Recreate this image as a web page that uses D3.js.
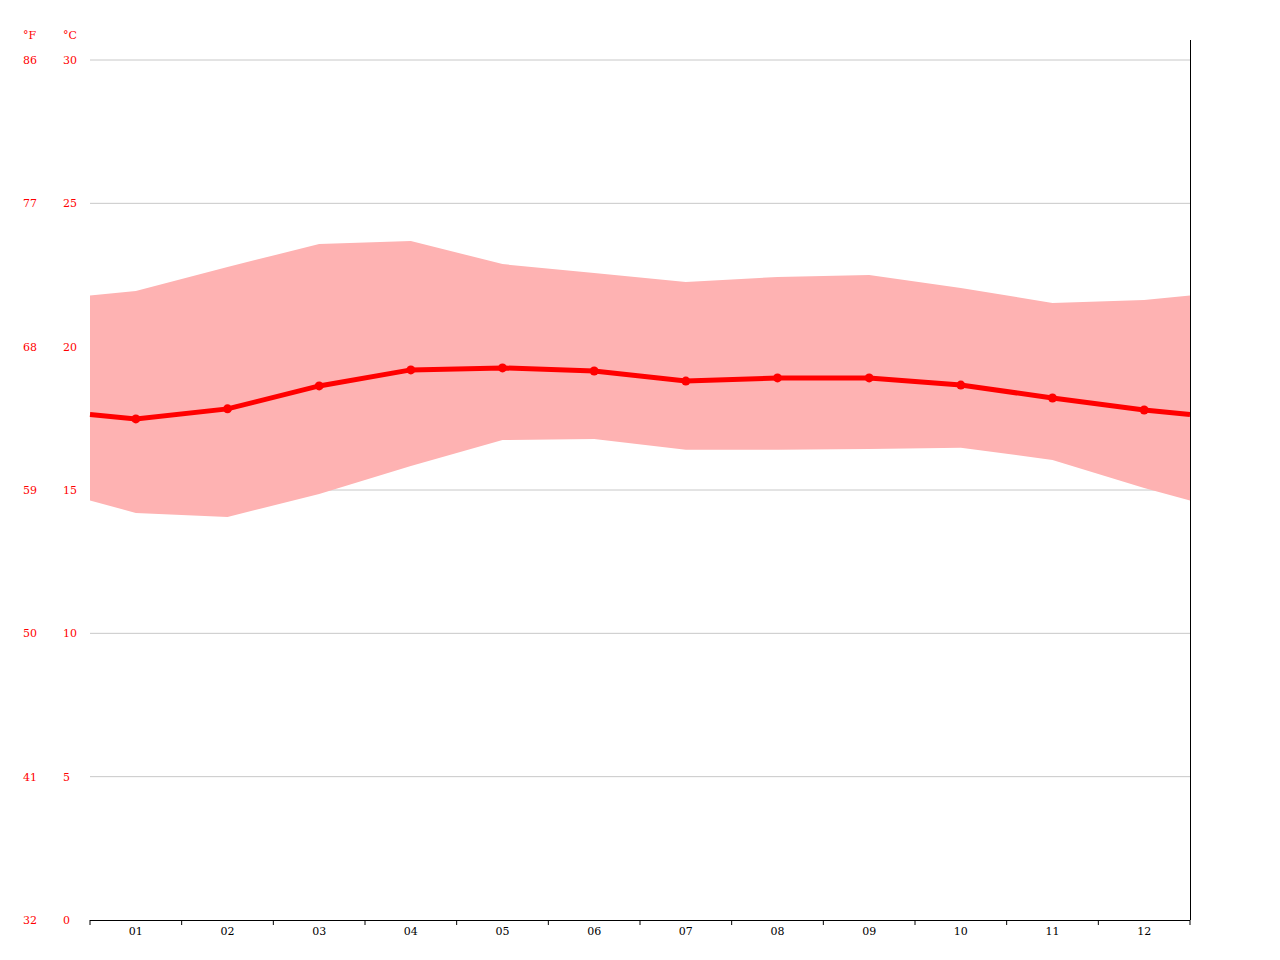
<!DOCTYPE html>
<html><head><meta charset="utf-8">
<script src="https://cdn.jsdelivr.net/npm/d3@7/dist/d3.min.js"></script>
<style>body{margin:0;background:#fff}svg{display:block}text{font-family:"DejaVu Serif",serif;font-size:11px}</style>
</head><body>
<script>
const months = ["01","02","03","04","05","06","07","08","09","10","11","12"];
const meanC = [17.48,17.83,18.63,19.19,19.26,19.15,18.80,18.91,18.91,18.66,18.21,17.79];
const highC = [21.94,22.78,23.58,23.69,22.88,22.57,22.26,22.43,22.50,22.05,21.52,21.63];
const lowC  = [14.20,14.06,14.86,15.84,16.74,16.78,16.40,16.40,16.43,16.47,16.05,15.07];
const tickC = [0,5,10,15,20,25,30];
const tickF = ["32","41","50","59","68","77","86"];

const W=1280,H=960,L=90,R=1190,T=60,B=920;
const svg=d3.select("body").append("svg").attr("width",W).attr("height",H);
const y=d3.scaleLinear().domain([0,30]).range([B,T]);
const xi=d3.scaleLinear().domain([-0.5,11.5]).range([L,R]);

// grid
svg.selectAll(".g").data(tickC.filter(d=>d>0)).join("line")
  .attr("x1",L).attr("x2",R).attr("y1",d=>y(d)).attr("y2",d=>y(d)).attr("stroke","#c8c8c8");
// labels
svg.selectAll(".c").data(tickC).join("text").attr("x",63).attr("y",d=>y(d)+4).attr("fill","red").text(d=>d);
svg.selectAll(".f").data(tickF).join("text").attr("x",23).attr("y",(d,i)=>y(tickC[i])+4).attr("fill","red").text(d=>d);
svg.append("text").attr("x",23).attr("y",39).attr("fill","red").text("°F");
svg.append("text").attr("x",63).attr("y",39).attr("fill","red").text("°C");

// series with wrap edges
function ext(arr){const e=(arr[0]+arr[11])/2;return [[-0.5,e],...arr.map((v,i)=>[i,v]),[11.5,e]];}
const hi=ext(highC), lo=ext(lowC), mn=ext(meanC);
const area=d3.area().x(d=>xi(d[0])).y0((d,i)=>y(lo[i][1])).y1(d=>y(d[1]));
svg.append("path").datum(hi).attr("d",area).attr("fill","#feb2b2");
svg.append("path").datum(mn).attr("d",d3.line().x(d=>xi(d[0])).y(d=>y(d[1])))
  .attr("fill","none").attr("stroke","red").attr("stroke-width",5);
svg.selectAll(".p").data(meanC).join("circle").attr("cx",(d,i)=>xi(i)).attr("cy",d=>y(d)).attr("r",4.5).attr("fill","red");

// axes
svg.append("line").attr("x1",L).attr("x2",R).attr("y1",B+0.5).attr("y2",B+0.5).attr("stroke","#000");
svg.append("line").attr("x1",R+0.5).attr("x2",R+0.5).attr("y1",40).attr("y2",B).attr("stroke","#000");
svg.selectAll(".t").data(d3.range(13)).join("line").attr("x1",d=>xi(d-0.5)).attr("x2",d=>xi(d-0.5))
  .attr("y1",B).attr("y2",B+5).attr("stroke","#000");
svg.selectAll(".m").data(months).join("text").attr("x",(d,i)=>xi(i)).attr("y",B+15)
  .attr("text-anchor","middle").attr("fill","#000").text(d=>d);
</script>
</body></html>
